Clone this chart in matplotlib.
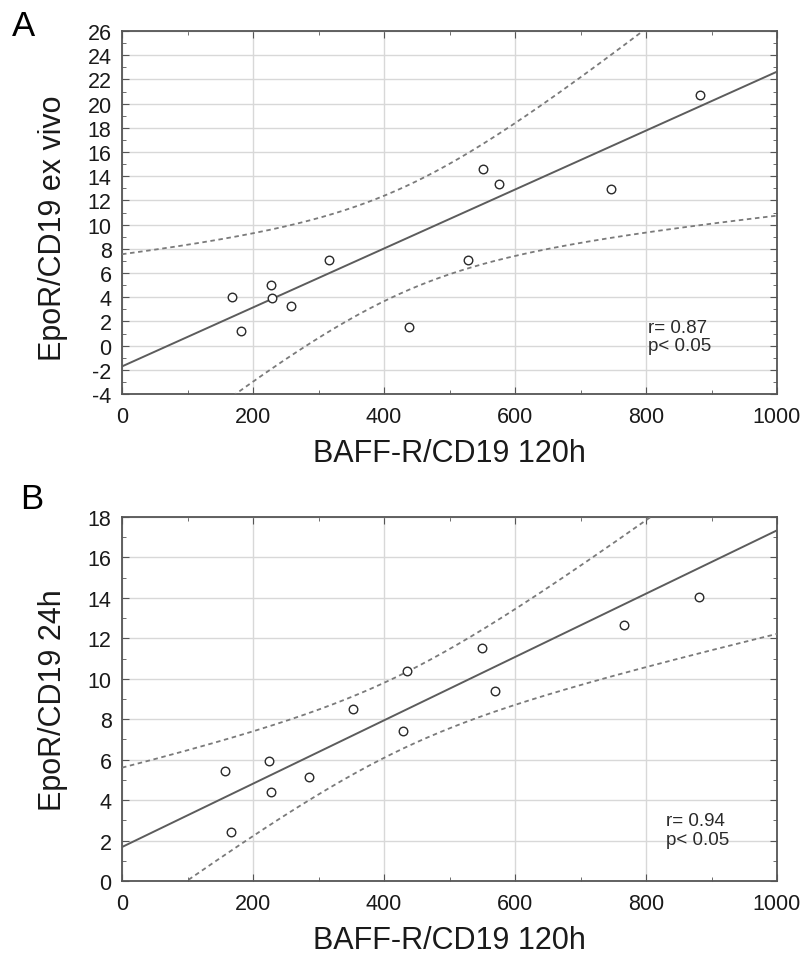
import numpy as np
import matplotlib
matplotlib.use("Agg")
import matplotlib.pyplot as plt
from matplotlib.ticker import MultipleLocator

plt.rcParams['font.family'] = ['Liberation Sans', 'DejaVu Sans']
plt.rcParams['axes.unicode_minus'] = False

# Panel A: BAFF-R/CD19 (120h) vs EpoR/CD19 ex vivo
baff_a = [168, 181, 227, 229, 258, 316, 438, 529, 551, 576, 747, 882]
epor_a = [4.04, 1.23, 5.0, 3.93, 3.25, 7.1, 1.54, 7.1, 14.57, 13.38, 12.97, 20.7]
fit_a = (-1.72, 0.02436)      # intercept, slope of the regression line
band_a = 15.0                 # t * residual SD for the 95% confidence band
stats_a = "r= 0.87\np< 0.05"

# Panel B: BAFF-R/CD19 (120h) vs EpoR/CD19 24h
baff_b = [157, 166, 225, 227, 286, 352, 429, 435, 549, 570, 767, 881]
epor_b = [5.46, 2.44, 5.93, 4.38, 5.16, 8.5, 7.42, 10.4, 11.52, 9.4, 12.64, 14.03]
fit_b = (1.68, 0.01566)
band_b = 6.4
stats_b = "r= 0.94\np< 0.05"


def line_with_band(x, fit, scale, xs):
    x = np.asarray(x, float)
    n = len(x)
    sxx = np.sum((x - x.mean()) ** 2)
    yhat = fit[0] + fit[1] * xs
    half = scale * np.sqrt(1.0 / n + (xs - x.mean()) ** 2 / sxx)
    return yhat, yhat - half, yhat + half


def draw_panel(ax, x, y, fit, scale, ylim, ylabel, stats, stats_pos, ylab_y):
    xs = np.linspace(0, 1000, 400)
    yhat, lo, hi = line_with_band(x, fit, scale, xs)
    ax.plot(xs, yhat, color='#5c5c5c', lw=1.4, zorder=3)
    for band in (lo, hi):
        ax.plot(xs, band, color='#7a7a7a', lw=1.3, ls=(0, (2.5, 2.0)), zorder=3)
    ax.scatter(x, y, s=38, facecolors='white', edgecolors='#2a2a2a',
               linewidths=1.0, zorder=4)

    ax.set_xlim(0, 1000)
    ax.set_ylim(*ylim)
    ax.xaxis.set_major_locator(MultipleLocator(200))
    ax.xaxis.set_minor_locator(MultipleLocator(100))
    ax.yaxis.set_major_locator(MultipleLocator(2))
    ax.yaxis.set_minor_locator(MultipleLocator(1))
    ax.grid(True, which='major', color='#d8d8d8', lw=1.0, zorder=0)
    ax.set_axisbelow(True)
    ax.tick_params(which='both', direction='in', top=True, right=True,
                   color='#555555', labelsize=15.5, labelcolor='#1a1a1a')
    ax.tick_params(axis='x', pad=9)
    ax.tick_params(axis='y', pad=7.5)
    ax.tick_params(which='major', length=5)
    ax.tick_params(which='minor', length=3)
    for sp in ax.spines.values():
        sp.set_color('#555555')
        sp.set_linewidth(1.3)
    ax.set_xlabel("BAFF-R/CD19 120h", fontsize=22, color='#1a1a1a')
    ax.xaxis.set_label_coords(0.5, -0.12)
    ax.set_ylabel(ylabel, fontsize=22, color='#1a1a1a')
    ax.yaxis.set_label_coords(-0.082, ylab_y)
    ax.text(*stats_pos, stats, transform=ax.transData, fontsize=13.5,
            color='#2a2a2a', va='top', ha='left', linespacing=1.1)


fig = plt.figure(figsize=(8.07, 9.62), dpi=100)
W, H = 807, 962
ax_a = fig.add_axes([122 / W, 1 - 395 / H, 655 / W, 363 / H])
ax_b = fig.add_axes([122 / W, 1 - 882 / H, 655 / W, 364 / H])

draw_panel(ax_a, baff_a, epor_a, fit_a, band_a, (-4, 26), "EpoR/CD19 ex vivo",
           stats_a, (803, 2.2), 0.46)
draw_panel(ax_b, baff_b, epor_b, fit_b, band_b, (0, 18), "EpoR/CD19 24h",
           stats_b, (830, 3.4), 0.5)

fig.text(12 / W, 1 - 26 / H, "A", fontsize=25, va='center', ha='left')
fig.text(20 / W, 1 - 500 / H, "B", fontsize=25, va='center', ha='left')

fig.savefig("out.png", dpi=100, facecolor='white')
